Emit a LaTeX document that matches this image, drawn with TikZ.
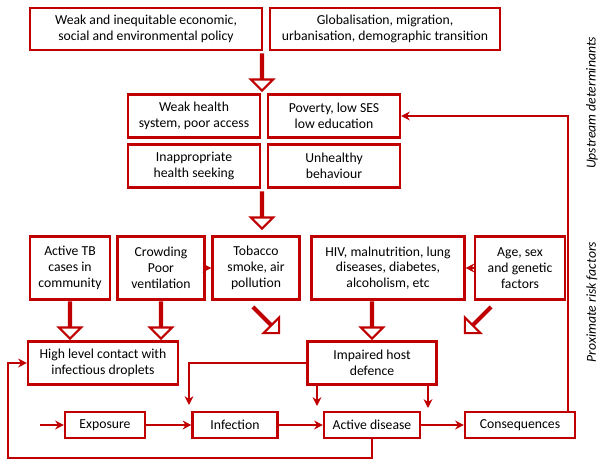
\documentclass[tikz,border=0pt]{standalone}
\usepackage{fontspec}
\setmainfont{Carlito}
\usetikzlibrary{shapes.arrows,positioning,arrows.meta}
\definecolor{tbred}{RGB}{192,0,0}
\tikzset{
  bx/.style = { draw=tbred, line width=1.2pt, fill=white, align=center, inner sep=1pt,
    font=\fontsize{7.8}{9}\selectfont },
  hol/.style = { single arrow, draw=tbred, line width=1.2pt, fill=white, inner sep=0pt,
    minimum height=0.72cm, minimum width=0.3cm, single arrow head extend=0.2cm,
    rotate=#1 },
  side/.style = { rotate=90, font=\fontsize{7.8}{9}\selectfont\itshape },
  ln/.style = { draw=tbred, line width=0.9pt, -{Stealth[length=5pt,width=5pt]} }
}
\begin{document}
\begin{tikzpicture}[x=0.02cm, y=-0.02cm]
    \useasboundingbox (0,0) rectangle (603,463);
    % upstream
    \node[bx, minimum width=4.64cm, minimum height=0.84cm] (pol) at (146,29) {Weak and inequitable economic,\\social and environmental policy};
    \node[bx, minimum width=4.6cm, minimum height=0.84cm] (glob) at (385,29) {Globalisation, migration,\\urbanisation, demographic transition};
    \node[hol=-90] (a1) at (262,72) {};
    \node[bx, minimum width=2.64cm, minimum height=0.86cm] (hs) at (194,116) {Weak health\\system, poor access};
    \node[bx, minimum width=2.64cm, minimum height=0.86cm] (pov) at (334,116) {Poverty, low SES\\low education};
    \node[bx, minimum width=2.64cm, minimum height=0.86cm] (seek) at (194,166) {Inappropriate\\health seeking};
    \node[bx, minimum width=2.64cm, minimum height=0.86cm] (beh) at (334,166) {Unhealthy\\behaviour};
    \node[hol=-90] (a2) at (262,210) {};
    % proximate
    \node[bx, minimum width=1.6cm, minimum height=1.26cm] (tb) at (70,268) {Active TB\\cases in\\community};
    \node[bx, minimum width=1.74cm, minimum height=1.26cm] (crowd) at (161,268) {Crowding\\Poor\\ventilation};
    \node[bx, minimum width=1.74cm, minimum height=1.26cm] (tob) at (256,268) {Tobacco\\smoke, air\\pollution};
    \node[bx, minimum width=3.06cm, minimum height=1.26cm] (hiv) at (388,268) {HIV, malnutrition, lung\\diseases, diabetes,\\alcoholism, etc};
    \node[bx, minimum width=1.8cm, minimum height=1.26cm] (age) at (520,268) {Age, sex\\and genetic\\factors};
    \draw[ln] (crowd) -- (tob);
    \draw[ln] (age) -- (hiv);
    \node[hol=-90] (a3) at (70,320) {};
    \node[hol=-90] (a4) at (161,320) {};
    \node[hol=-45] (a5) at (266,320) {};
    \node[hol=-90] (a6) at (372,320) {};
    \node[hol=-135] (a7) at (478,320) {};
    \node[bx, minimum width=3cm, minimum height=0.86cm] (cont) at (103,363) {High level contact with\\infectious droplets};
    \node[bx, minimum width=2.58cm, minimum height=0.86cm] (imp) at (372,363) {Impaired host\\defence};
    % pathway
    \node[bx, minimum width=1.6cm, minimum height=0.52cm] (exp) at (105,425) {Exposure};
    \node[bx, minimum width=1.7cm, minimum height=0.52cm] (inf) at (235,425) {Infection};
    \node[bx, minimum width=1.92cm, minimum height=0.52cm] (act) at (372,425) {Active disease};
    \node[bx, minimum width=2.2cm, minimum height=0.52cm] (cons) at (520,425) {Consequences};
    \coordinate (in) at (40,425);
    \draw[ln] (in) -- (exp);
    \draw[ln] (exp) -- (inf);
    \draw[ln] (inf) -- (act);
    \draw[ln] (act) -- (cons);
    \draw[ln] (imp.west) -| (189,405);
    \draw[ln] (317,384) -- (317,406);
    \draw[ln] (428,384) -- (428,408);
    % feedback loops
    \draw[ln] (cons.north -| 568,0) |- (pov.east);
    \draw[ln] (act.south) -- (372,458) -| (8,363) -- (cont.west);
    % side labels
    \node[side] (up) at (592,103) {Upstream determinants};
    \node[side] (prox) at (592,302) {Proximate risk factors};
\end{tikzpicture}
\end{document}
